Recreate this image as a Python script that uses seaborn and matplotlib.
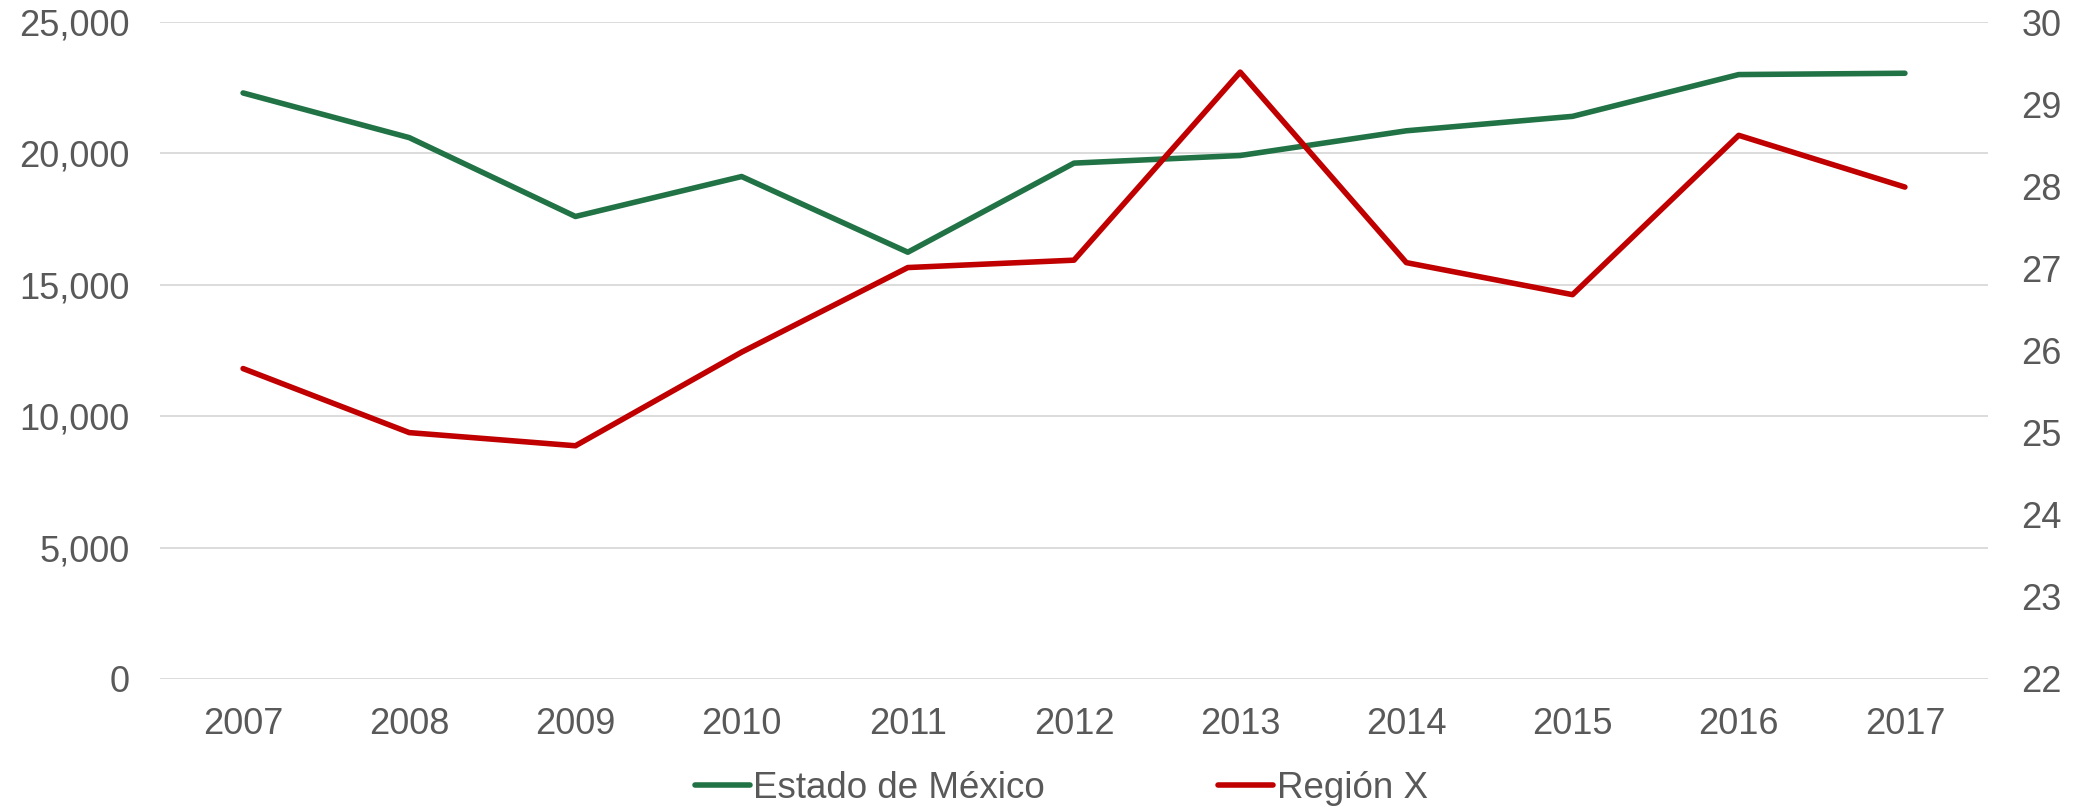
import numpy as np
import pandas as pd
import matplotlib
matplotlib.use("Agg")
import matplotlib.pyplot as plt
import seaborn as sns

years = ["2007", "2008", "2009", "2010", "2011", "2012", "2013", "2014", "2015", "2016", "2017"]
estado_mexico = [22300, 20600, 17600, 19120, 16240, 19630, 19920, 20860, 21410, 23000, 23050]
region_x = [25.78, 25.00, 24.84, 25.98, 27.01, 27.10, 29.39, 27.07, 26.68, 28.62, 27.99]

green = "#217346"
red = "#c00000"
gray = "#595959"

sns.set_style("white")
plt.rcParams["font.family"] = ["Liberation Sans", "DejaVu Sans"]

df = pd.DataFrame({"pos": np.arange(len(years)), "edomex": estado_mexico, "region": region_x})

fig, ax = plt.subplots(figsize=(20.81, 8.11), dpi=100)
fig.subplots_adjust(left=160/2081, right=1988/2081, bottom=1-679/811, top=1-22/811)
ax2 = ax.twinx()

sns.lineplot(data=df, x="pos", y="edomex", ax=ax, color=green, linewidth=4,
             label="Estado de México", legend=False, zorder=3, solid_capstyle="round")
sns.lineplot(data=df, x="pos", y="region", ax=ax2, color=red, linewidth=4,
             label="Región X", legend=False, zorder=3, solid_capstyle="round")

ax.set_xlim(-0.5, len(years) - 0.5)
ax.set_ylim(0, 25000)
ax2.set_ylim(22, 30)
ax.set_yticks(np.arange(0, 25001, 5000))
ax.set_yticklabels([f"{v:,}" for v in range(0, 25001, 5000)])
ax2.set_yticks(np.arange(22, 31, 1))
ax.set_xticks(df["pos"])
ax.set_xticklabels(years)
ax.set_xlabel("")
ax.set_ylabel("")
ax2.set_ylabel("")

ax.grid(axis="y", color="#d9d9d9", linewidth=1.3)
ax.set_axisbelow(True)
for a in (ax, ax2):
    for s in a.spines.values():
        s.set_visible(False)
ax.tick_params(axis="y", length=0, pad=22, labelsize=26, labelcolor=gray)
ax.tick_params(axis="x", length=0, pad=20, labelsize=26, labelcolor=gray)
ax2.tick_params(axis="y", length=0, pad=24, labelsize=26, labelcolor=gray)

h1, l1 = ax.get_legend_handles_labels()
h2, l2 = ax2.get_legend_handles_labels()
leg = fig.legend(h1 + h2, l1 + l2, loc="center", bbox_to_anchor=(0.51, 1-788/811), ncol=2,
                 frameon=False, fontsize=26.5, handlelength=1.5, handletextpad=0.1,
                 columnspacing=4.7)
for t in leg.get_texts():
    t.set_color(gray)

fig.savefig("out.png", dpi=100)
